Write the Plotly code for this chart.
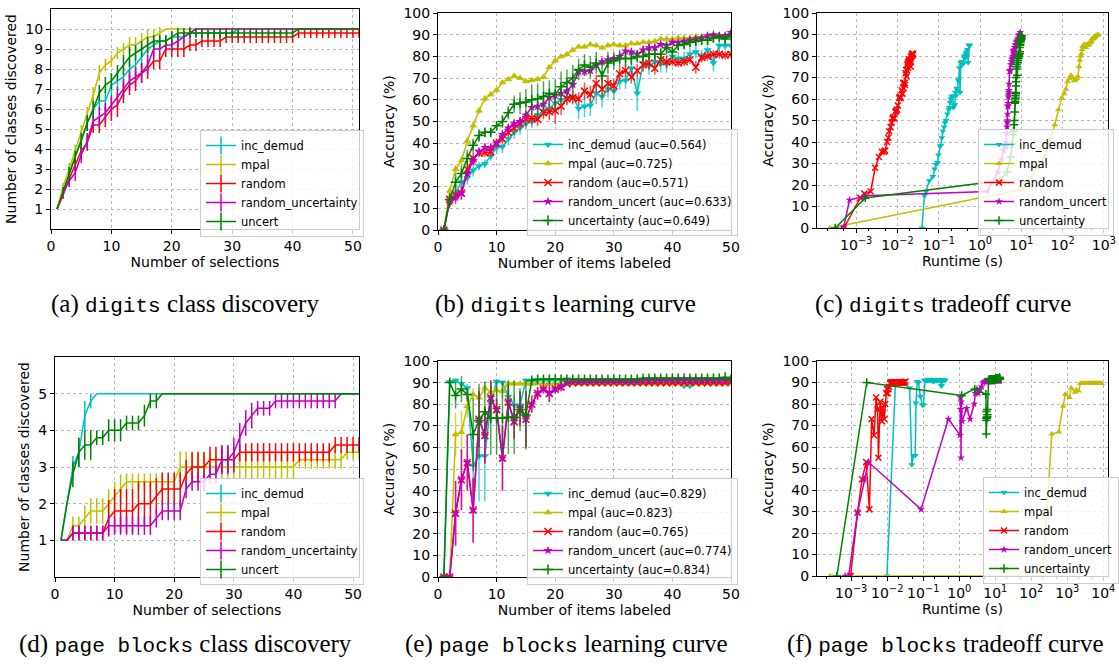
import plotly.graph_objects as go

W, H = 1119, 664

# ---------------- shared x values ----------------
selections = list(range(1, 52))   # panels (a), (d)
items = list(range(1, 51))        # panels (b), (e)

# ---------------- (a) digits class discovery ----------------
a_inc = [1, 1.9, 2.7, 3.6, 4.5, 5.3, 6.0, 6.4, 6.4, 7.2,
         7.4, 7.6, 8.0, 8.2, 8.6, 9.0, 9.2, 9.4, 9.4, 9.6,
         9.6, 9.6, 9.8, 9.8, 9.8, 9.8, 9.8, 9.8, 9.8, 9.8,
         10, 10, 10, 10, 10, 10, 10, 10, 10, 10,
         10, 10, 10, 10, 10, 10, 10, 10, 10, 10, 10]
a_mpal = [1, 2.1, 3.0, 3.9, 4.8, 5.7, 6.7, 7.8, 8.2, 8.4,
          8.8, 9.0, 9.2, 9.2, 9.4, 9.6, 9.6, 9.8, 10, 10,
          10, 10, 10, 10, 10, 10, 10, 10, 10, 10,
          10, 10, 10, 10, 10, 10, 10, 10, 10, 10,
          10, 10, 10, 10, 10, 10, 10, 10, 10, 10, 10]
a_rand = [1, 1.7, 2.5, 3.2, 3.9, 4.3, 5.2, 5.2, 5.6, 6.0,
          6.2, 6.8, 7.2, 7.4, 7.8, 8.0, 8.4, 8.4, 9.0, 9.0,
          9.0, 9.0, 9.2, 9.2, 9.4, 9.4, 9.4, 9.4, 9.6, 9.6,
          9.6, 9.6, 9.6, 9.6, 9.6, 9.6, 9.6, 9.6, 9.6, 9.6,
          9.8, 9.8, 9.8, 9.8, 9.8, 9.8, 9.8, 9.8, 9.8, 9.8, 9.8]
a_runc = [1, 1.8, 2.4, 2.8, 3.7, 4.4, 5.4, 5.6, 5.8, 6.2,
          6.6, 7.0, 7.4, 7.6, 7.8, 8.2, 9.0, 9.0, 9.2, 9.2,
          9.4, 9.6, 9.8, 10, 10, 10, 10, 10, 10, 10,
          10, 10, 10, 10, 10, 10, 10, 10, 10, 10,
          10, 10, 10, 10, 10, 10, 10, 10, 10, 10, 10]
a_unc = [1, 1.9, 2.8, 3.6, 4.4, 5.3, 6.0, 6.8, 7.2, 7.4,
         7.8, 8.2, 8.6, 8.8, 9.0, 9.2, 9.4, 9.4, 9.4, 9.6,
         9.8, 9.8, 9.8, 9.8, 9.8, 9.8, 9.8, 9.8, 9.8, 9.8,
         9.8, 9.8, 9.8, 9.8, 9.8, 9.8, 9.8, 9.8, 9.8, 9.8,
         10, 10, 10, 10, 10, 10, 10, 10, 10, 10, 10]
a_inc_err = [0, 0.2, 0.3, 0.4, 0.4, 0.4, 0.5, 0.5, 0.5, 0.5,
             0.5, 0.5, 0.5, 0.5, 0.5, 0.4, 0.4, 0.3, 0.3, 0.25,
             0.25, 0.25, 0.2, 0.2, 0.2, 0.2, 0.2, 0.2, 0.2, 0.2,
             0, 0, 0, 0, 0, 0, 0, 0, 0, 0,
             0, 0, 0, 0, 0, 0, 0, 0, 0, 0, 0]
a_mpal_err = [0, 0.2, 0.3, 0.3, 0.4, 0.4, 0.4, 0.4, 0.3, 0.3,
              0.3, 0.3, 0.4, 0.4, 0.4, 0.4, 0.4, 0.3, 0, 0,
              0, 0, 0, 0, 0, 0, 0, 0, 0, 0,
              0, 0, 0, 0, 0, 0, 0, 0, 0, 0,
              0, 0, 0, 0, 0, 0, 0, 0, 0, 0, 0]
a_rand_err = [0, 0.2, 0.3, 0.3, 0.4, 0.4, 0.4, 0.4, 0.5, 0.6,
              0.6, 0.5, 0.5, 0.5, 0.5, 0.5, 0.4, 0.4, 0.4, 0.4,
              0.4, 0.4, 0.3, 0.3, 0.3, 0.3, 0.3, 0.3, 0.3, 0.3,
              0.3, 0.3, 0.3, 0.3, 0.3, 0.3, 0.3, 0.3, 0.3, 0.3,
              0.25, 0.25, 0.25, 0.25, 0.25, 0.25, 0.25, 0.25, 0.25, 0.25, 0.25]
a_runc_err = [0, 0.2, 0.3, 0.4, 0.4, 0.4, 0.4, 0.5, 0.5, 0.5,
              0.5, 0.5, 0.5, 0.5, 0.5, 0.5, 0.4, 0.3, 0.3, 0.3,
              0.3, 0.3, 0.3, 0, 0, 0, 0, 0, 0, 0,
              0, 0, 0, 0, 0, 0, 0, 0, 0, 0,
              0, 0, 0, 0, 0, 0, 0, 0, 0, 0, 0]
a_unc_err = [0, 0.2, 0.3, 0.3, 0.4, 0.4, 0.4, 0.4, 0.4, 0.4,
             0.4, 0.5, 0.5, 0.4, 0.4, 0.4, 0.3, 0.3, 0.3, 0.3,
             0.25, 0.25, 0.25, 0.25, 0.25, 0.25, 0.25, 0.25, 0.25, 0.25,
             0.25, 0.25, 0.25, 0.25, 0.25, 0.25, 0.25, 0.25, 0.25, 0.25,
             0, 0, 0, 0, 0, 0, 0, 0, 0, 0, 0]

# ---------------- (b) digits learning curve ----------------
b_inc = [0, 15, 17, 22, 24, 27.5, 29.5, 30.5, 34, 38,
         38.5, 42, 45, 47, 49, 50, 53, 55, 56, 58.5,
         60, 61, 61.5, 56, 57, 57.5, 63, 61.5, 65, 64,
         68.5, 69, 74.5, 63, 77, 75.5, 77.5, 76.5, 76.5, 80,
         79, 79, 81, 82, 80, 83, 77, 85, 85, 85]
b_mpal = [0, 18, 28, 32, 41, 48, 55, 60.5, 62.5, 64.5,
          68, 69.5, 71, 70, 68.5, 69, 69.5, 70.5, 75, 78,
          80, 81, 83, 84.5, 84.5, 85.5, 85, 84, 85, 85.5,
          85, 85, 86, 86, 86.5, 86.5, 87, 88, 88, 88,
          88.5, 88.5, 88.5, 89, 89, 89.5, 89.5, 89.5, 89.5, 90]
b_rand = [0, 14, 16, 17, 28, 33, 35.5, 35.5, 36, 40,
          42, 45, 47, 49, 51, 51.5, 51, 54, 54.5, 55,
          57, 60.5, 61, 60.5, 64, 62.5, 67.5, 65, 67.5, 66.5,
          72, 73.5, 70.5, 73.5, 76, 77, 74.5, 78.5, 77.5, 77.5,
          77, 77.5, 78.5, 75, 79.5, 80, 81, 81, 80.5, 81]
b_runc = [0, 13, 15, 17, 26, 32, 36, 38, 38, 40,
          44, 47, 49, 50, 53, 56.5, 57, 58, 61, 62,
          63, 64, 67, 73, 73, 73.5, 76, 77.5, 78.5, 79,
          80, 82.5, 82, 81, 83, 84, 84, 85.5, 85, 86.5,
          86.5, 87, 87.5, 88, 88.5, 89.5, 90, 89.5, 89.5, 91]
b_unc = [0, 14, 22, 26, 33, 39, 43.5, 45, 45, 48,
         50, 54, 58, 58.5, 59, 60, 60.5, 61.5, 63, 62.5,
         66, 68, 70, 74, 76, 75, 77, 71, 77, 78,
         79, 79, 79, 80, 80, 81, 81, 81, 84, 82,
         85, 85.5, 86.5, 87, 87.5, 87.5, 88.5, 89, 88, 89.5]
b_inc_err = [0, 2, 3, 3, 3, 3, 2, 2, 2, 3,
             3, 3, 3, 3, 3, 3, 3, 3, 3, 3,
             3, 3, 3, 5, 5, 5, 5, 5, 4, 4,
             4, 4, 3, 8, 4, 4, 4, 4, 4, 3,
             3, 3, 3, 3, 3, 3, 4, 2, 2, 2]
b_mpal_err = [0, 2, 2, 2, 2, 2, 1.5, 1.5, 1, 1,
              1, 1, 1, 1, 1, 1, 1, 1, 1, 1,
              1, 1, 1, 1, 1, 1, 1, 1, 1, 1,
              1, 1, 1, 1, 1, 1, 1, 1, 1, 1,
              1, 1, 1, 1, 1, 1, 1, 1, 1, 1]
b_rand_err = [0, 3, 3, 3, 3, 3, 2, 2, 2, 2,
              2, 2, 3, 3, 3, 3, 3, 3, 4, 6,
              4, 3, 3, 3, 4, 4, 4, 4, 4, 3,
              3, 3, 3, 3, 3, 3, 3, 3, 3, 2,
              2, 2, 2, 3, 2, 2, 2, 2, 2, 2]
b_runc_err = [0, 3, 3, 3, 2, 2, 2, 2, 2, 2,
              2, 2, 2, 2, 2, 2, 2, 2, 2, 2,
              2, 2, 2, 2, 2, 2, 2, 2, 2, 2,
              2, 2, 2, 2, 2, 2, 2, 1, 1, 1,
              1, 1, 1, 1, 1, 1, 1, 1, 1, 1]
b_unc_err = [0, 3, 4, 4, 4, 3, 3, 2, 2, 2,
             3, 3, 4, 5, 6, 7, 7, 7, 6, 7,
             7, 6, 6, 5, 5, 5, 5, 6, 5, 4,
             4, 4, 3, 3, 3, 3, 3, 3, 3, 3,
             2, 2, 2, 2, 2, 2, 2, 2, 2, 2]

# ---------------- (c) digits tradeoff: cumulative runtime (s) ----------------
c_inc_t = [0.039, 0.045, 0.049, 0.059, 0.072, 0.079, 0.086, 0.093, 0.098, 0.108,
           0.112, 0.118, 0.125, 0.135, 0.142, 0.150, 0.162, 0.175, 0.181, 0.188,
           0.195, 0.206, 0.218, 0.226, 0.235, 0.244, 0.253, 0.262, 0.272, 0.283,
           0.294, 0.305, 0.316, 0.328, 0.340, 0.353, 0.367, 0.381, 0.395, 0.410,
           0.426, 0.434, 0.450, 0.467, 0.475, 0.494, 0.513, 0.532, 0.552, 0.573]
c_mpal_t = [2.3e-4, 11, 24, 34, 49, 65, 79, 96, 110, 120,
            132, 145, 160, 175, 190, 205, 220, 235, 250, 262,
            275, 285, 295, 305, 320, 335, 350, 365, 380, 395,
            410, 425, 440, 455, 470, 485, 500, 515, 530, 545,
            560, 575, 590, 605, 620, 640, 660, 680, 700, 720]
c_rand_t = [5.0e-4, 1.26e-3, 1.58e-3, 2.24e-3, 2.88e-3, 3.55e-3, 4.17e-3, 4.68e-3, 5.0e-3, 5.6e-3,
            6.0e-3, 6.3e-3, 6.8e-3, 7.2e-3, 7.6e-3, 7.9e-3, 8.3e-3, 8.9e-3, 9.3e-3, 9.8e-3,
            1.02e-2, 1.10e-2, 1.15e-2, 1.20e-2, 1.26e-2, 1.32e-2, 1.38e-2, 1.41e-2, 1.48e-2, 1.51e-2,
            1.58e-2, 1.62e-2, 1.66e-2, 1.70e-2, 1.74e-2, 1.78e-2, 1.82e-2, 1.86e-2, 1.91e-2, 1.95e-2,
            2.0e-2, 2.04e-2, 2.09e-2, 2.1e-2, 2.14e-2, 2.19e-2, 2.24e-2, 2.29e-2, 2.34e-2, 2.40e-2]
c_runc_t = [4.9e-4, 6.9e-4, 1.66e-3, 1.5, 2.7, 3.3, 3.7, 4.0, 4.2, 4.3,
            4.4, 4.5, 4.55, 4.6, 4.65, 4.7, 4.75, 4.8, 4.85, 4.9,
            4.95, 5.0, 5.05, 5.2, 5.3, 5.4, 5.6, 5.8, 6.0, 6.1,
            6.2, 6.4, 6.5, 6.6, 6.8, 7.0, 7.1, 7.3, 7.4, 7.6,
            7.8, 7.9, 8.1, 8.3, 8.5, 8.7, 8.9, 9.0, 9.2, 9.4]
c_unc_t = [3.1e-4, 1.66e-3, 3.0, 4.5, 5.5, 6.0, 6.3, 6.5, 6.6, 6.7,
           6.8, 6.9, 7.0, 7.05, 7.1, 7.15, 7.2, 7.25, 7.3, 7.35,
           7.4, 7.45, 7.5, 7.6, 7.7, 7.8, 7.9, 8.0, 8.1, 8.2,
           8.3, 8.4, 8.5, 8.6, 8.7, 8.8, 8.9, 9.0, 9.1, 9.2,
           9.3, 9.4, 9.5, 9.6, 9.7, 9.8, 9.9, 10.0, 10.1, 10.3]

# ---------------- (d) page blocks class discovery ----------------
d_inc = [1, 2, 3, 3.4, 4.4, 4.8, 5, 5, 5, 5,
         5, 5, 5, 5, 5, 5, 5, 5, 5, 5,
         5, 5, 5, 5, 5, 5, 5, 5, 5, 5,
         5, 5, 5, 5, 5, 5, 5, 5, 5, 5,
         5, 5, 5, 5, 5, 5, 5, 5, 5, 5, 5]
d_mpal = [1, 1, 1.4, 1.4, 1.6, 1.8, 1.8, 1.8, 2.0, 2.2,
          2.4, 2.6, 2.6, 2.6, 2.6, 2.6, 2.6, 2.6, 2.6, 2.6,
          3.0, 3.0, 3.0, 3.0, 3.0, 3.0, 3.0, 3.0, 3.0, 3.0,
          3.0, 3.0, 3.0, 3.0, 3.0, 3.0, 3.0, 3.0, 3.0, 3.0,
          3.2, 3.2, 3.2, 3.2, 3.2, 3.2, 3.2, 3.2, 3.4, 3.4, 3.4]
d_rand = [1, 1, 1.2, 1.2, 1.2, 1.2, 1.2, 1.2, 1.6, 1.8,
          1.8, 1.8, 1.8, 2.0, 2.0, 2.0, 2.2, 2.4, 2.4, 2.4,
          2.4, 2.8, 3.0, 3.0, 3.0, 3.2, 3.2, 3.2, 3.2, 3.2,
          3.4, 3.4, 3.4, 3.4, 3.4, 3.4, 3.4, 3.4, 3.4, 3.4,
          3.4, 3.4, 3.4, 3.4, 3.4, 3.4, 3.6, 3.6, 3.6, 3.6, 3.6]
d_runc = [1, 1, 1.2, 1.2, 1.2, 1.2, 1.2, 1.2, 1.4, 1.4,
          1.4, 1.4, 1.4, 1.4, 1.4, 1.4, 1.6, 1.8, 1.8, 1.8,
          1.8, 2.4, 2.6, 2.6, 2.6, 2.8, 2.8, 3.2, 3.2, 3.4,
          3.8, 4.2, 4.4, 4.6, 4.6, 4.6, 4.8, 4.8, 4.8, 4.8,
          4.8, 4.8, 4.8, 4.8, 4.8, 4.8, 4.8, 5, 5, 5, 5]
d_unc = [1, 2, 2.8, 3.4, 3.6, 3.6, 3.8, 3.8, 4.0, 4.0,
         4.0, 4.2, 4.2, 4.2, 4.4, 4.8, 4.8, 5, 5, 5,
         5, 5, 5, 5, 5, 5, 5, 5, 5, 5,
         5, 5, 5, 5, 5, 5, 5, 5, 5, 5,
         5, 5, 5, 5, 5, 5, 5, 5, 5, 5, 5]
d_inc_err = [0, 0, 0.3, 0.4, 0.4, 0.2, 0, 0, 0, 0,
             0, 0, 0, 0, 0, 0, 0, 0, 0, 0,
             0, 0, 0, 0, 0, 0, 0, 0, 0, 0,
             0, 0, 0, 0, 0, 0, 0, 0, 0, 0,
             0, 0, 0, 0, 0, 0, 0, 0, 0, 0, 0]
d_mpal_err = [0, 0, 0.25, 0.25, 0.35, 0.35, 0.35, 0.35, 0.4, 0.4,
              0.4, 0.22, 0.22, 0.22, 0.22, 0.22, 0.22, 0.22, 0.22, 0.22,
              0.42, 0.42, 0.42, 0.42, 0.42, 0.35, 0.35, 0.35, 0.35, 0.35,
              0.35, 0.35, 0.35, 0.35, 0.35, 0.35, 0.35, 0.35, 0.35, 0.35,
              0.25, 0.25, 0.25, 0.25, 0.25, 0.25, 0.25, 0.25, 0.2, 0.2, 0.2]
d_rand_err = [0, 0, 0.2, 0.2, 0.2, 0.2, 0.2, 0.2, 0.5, 0.6,
              0.6, 0.6, 0.6, 0.6, 0.6, 0.6, 0.5, 0.45, 0.45, 0.45,
              0.45, 0.4, 0.4, 0.4, 0.4, 0.35, 0.35, 0.35, 0.35, 0.35,
              0.25, 0.25, 0.25, 0.25, 0.25, 0.25, 0.25, 0.25, 0.25, 0.25,
              0.25, 0.25, 0.25, 0.25, 0.25, 0.25, 0.22, 0.22, 0.22, 0.22, 0.22]
d_runc_err = [0, 0, 0.2, 0.2, 0.2, 0.2, 0.2, 0.2, 0.25, 0.25,
              0.25, 0.25, 0.25, 0.25, 0.25, 0.25, 0.25, 0.25, 0.25, 0.25,
              0.25, 0.25, 0.25, 0.25, 0.25, 0.25, 0.25, 0.4, 0.4, 0.4,
              0.4, 0.35, 0.35, 0.2, 0.2, 0.2, 0.2, 0.2, 0.2, 0.2,
              0.2, 0.2, 0.2, 0.2, 0.2, 0.2, 0.2, 0, 0, 0, 0]
d_unc_err = [0, 0, 0.35, 0.4, 0.4, 0.4, 0.2, 0.2, 0.3, 0.3,
             0.3, 0.2, 0.2, 0.2, 0.3, 0.2, 0.2, 0, 0, 0,
             0, 0, 0, 0, 0, 0, 0, 0, 0, 0,
             0, 0, 0, 0, 0, 0, 0, 0, 0, 0,
             0, 0, 0, 0, 0, 0, 0, 0, 0, 0, 0]

# ---------------- (e) page blocks learning curve ----------------
e_inc = [0, 90.3, 91, 89.5, 87.5, 51.7, 56, 56, 80.5, 90.5,
         90, 83.5, 79.5, 79.5, 91, 91, 91, 91, 91, 91,
         91, 91.5, 91, 91, 91, 91, 91, 90.5, 90.5, 91,
         91, 91, 91, 91, 91, 91, 91, 91, 91, 91,
         91, 88.5, 88.5, 91, 91, 91, 91, 91, 91, 91]
e_mpal = [0, 0, 66, 67, 79, 84.5, 83, 87.5, 85.5, 86.5,
          86, 89.5, 89.5, 89.5, 89.5, 89.5, 89.5, 89.5, 89.5, 89.5,
          89.5, 89.5, 89.5, 89.5, 89.5, 89.5, 89.5, 89.5, 89.5, 89.5,
          89.5, 89.5, 89.5, 89.5, 89.5, 89.5, 89.5, 89.5, 89.5, 89.5,
          89.5, 89.5, 89.5, 89.5, 89.5, 89.5, 89.5, 89.5, 89.5, 89.5]
e_rand = [0, 0, 29.5, 45, 53, 31, 73, 65.5, 83, 77.5,
          55, 81, 72, 78, 73, 80, 85, 87, 85, 87,
          88, 89.5, 90, 90, 90, 90, 90, 90, 90, 90,
          90, 90, 90, 90, 90, 90, 90, 90, 90, 90,
          90, 90, 90, 90, 90, 90, 90, 90, 90, 90.5]
e_runc = [0, 0, 29.5, 45, 53, 31, 73, 65.5, 83, 77.5,
          55, 81, 72, 78, 73, 80, 85, 87, 85, 87,
          88, 90, 90.5, 90.5, 90.5, 90.5, 90.5, 90.5, 90.5, 90.5,
          90.5, 90.5, 90.5, 90.5, 91, 91, 91, 91, 91, 91,
          91, 91, 91, 91, 91, 91, 91, 91, 91, 91.5]
e_unc = [0, 90, 84, 87, 84.5, 66, 72.5, 76.5, 73.5, 73.5,
         73.5, 74, 74, 77.5, 75, 91, 91.5, 91.5, 91.5, 91.5,
         91.5, 91.5, 91.5, 91.5, 91.5, 91.5, 91.5, 91.5, 91.5, 91.5,
         91.5, 91.5, 91.5, 91.5, 92, 92, 92, 92, 92, 92,
         92, 92, 92, 92, 92, 92, 92, 92, 92.5, 91.5]
e_inc_err = [0, 1, 1, 1, 2, 15, 21, 21, 8, 1,
             1, 5, 5, 5, 1, 0.5, 0.5, 0.5, 0.5, 0.5,
             0.5, 0.5, 0.5, 0.5, 0.5, 0.5, 0.5, 0.5, 0.5, 0.5,
             0.5, 0.5, 0.5, 0.5, 0.5, 0.5, 0.5, 0.5, 0.5, 0.5,
             0.5, 0.5, 0.5, 0.5, 0.5, 0.5, 0.5, 0.5, 0.5, 0.5]
e_mpal_err = [0, 0, 10, 10, 5, 3, 5, 3, 3, 3,
              3, 1, 1, 1, 1, 0.5, 0.5, 0.5, 0.5, 0.5,
              0.5, 0.5, 0.5, 0.5, 0.5, 0.5, 0.5, 0.5, 0.5, 0.5,
              0.5, 0.5, 0.5, 0.5, 0.5, 0.5, 0.5, 0.5, 0.5, 0.5,
              0.5, 0.5, 0.5, 0.5, 0.5, 0.5, 0.5, 0.5, 0.5, 0.5]
e_rand_err = [0, 0, 15, 14, 13, 15, 13, 13, 8, 5,
              15, 8, 8, 8, 13, 4, 3, 2, 4, 2,
              2, 1, 0.5, 0.5, 0.5, 0.5, 0.5, 0.5, 0.5, 0.5,
              0.5, 0.5, 0.5, 0.5, 0.5, 0.5, 0.5, 0.5, 0.5, 0.5,
              0.5, 0.5, 0.5, 0.5, 0.5, 0.5, 0.5, 0.5, 0.5, 0.5]
e_runc_err = [0, 0, 15, 14, 13, 15, 13, 13, 8, 5,
              15, 8, 8, 8, 13, 4, 3, 2, 4, 2,
              2, 1, 0.5, 0.5, 0.5, 0.5, 0.5, 0.5, 0.5, 0.5,
              0.5, 0.5, 0.5, 0.5, 0.5, 0.5, 0.5, 0.5, 0.5, 0.5,
              0.5, 0.5, 0.5, 0.5, 0.5, 0.5, 0.5, 0.5, 0.5, 0.5]
e_unc_err = [0, 1, 6, 6, 3, 17, 17, 14, 17, 17,
             17, 17, 17, 10, 16, 1, 0.5, 0.5, 0.5, 0.5,
             0.5, 0.5, 0.5, 0.5, 0.5, 0.5, 0.5, 0.5, 0.5, 0.5,
             0.5, 0.5, 0.5, 0.5, 0.5, 0.5, 0.5, 0.5, 0.5, 0.5,
             0.5, 0.5, 0.5, 0.5, 0.5, 0.5, 0.5, 0.5, 0.5, 0.5]

# ---------------- (f) page blocks tradeoff: cumulative runtime (s) ----------------
f_inc_t = [0.0098, 0.017, 0.022, 0.03, 0.042, 0.048, 0.054, 0.06, 0.063, 0.068,
           0.074, 0.083, 0.094, 0.102, 0.107, 0.112, 0.118, 0.124, 0.13, 0.136,
           0.142, 0.148, 0.155, 0.162, 0.169, 0.176, 0.183, 0.19, 0.198, 0.206,
           0.214, 0.222, 0.23, 0.239, 0.248, 0.257, 0.266, 0.275, 0.285, 0.295,
           0.305, 0.315, 0.325, 0.335, 0.345, 0.355, 0.365, 0.38, 0.395, 0.41]
f_mpal_t = [2.6e-4, 210, 370, 580, 760, 880, 1150, 1290, 1650, 1780,
            2050, 2300, 2450, 2600, 2750, 2900, 3050, 3200, 3350, 3500,
            3650, 3800, 3950, 4100, 4250, 4400, 4550, 4700, 4850, 5000,
            5150, 5300, 5450, 5600, 5750, 5900, 6050, 6200, 6350, 6500,
            6650, 6800, 6950, 7100, 7300, 7500, 7800, 8100, 8500, 9000]
f_rand_t = [9.4e-4, 9.6e-4, 1.5e-3, 2.0e-3, 2.6e-3, 3.2e-3, 3.7e-3, 4.3e-3, 4.9e-3, 5.4e-3,
            5.7e-3, 6.4e-3, 7.1e-3, 7.5e-3, 8.3e-3, 8.8e-3, 9.4e-3, 9.9e-3, 1.03e-2, 1.08e-2,
            1.13e-2, 1.2e-2, 1.25e-2, 1.3e-2, 1.35e-2, 1.4e-2, 1.45e-2, 1.5e-2, 1.55e-2, 1.6e-2,
            1.65e-2, 1.7e-2, 1.75e-2, 1.8e-2, 1.85e-2, 1.9e-2, 1.95e-2, 2.0e-2, 2.06e-2, 2.12e-2,
            2.18e-2, 2.24e-2, 2.3e-2, 2.4e-2, 2.5e-2, 2.6e-2, 2.7e-2, 2.85e-2, 3.0e-2, 3.2e-2]
f_runc_t = [6.8e-4, 8.5e-4, 1.5e-3, 2.3e-3, 3.0e-3, 0.087, 0.5, 1.05, 1.08, 1.1,
            1.12, 1.14, 1.2, 1.6, 2.0, 2.6, 2.8, 3.1, 3.4, 3.8,
            4.2, 4.6, 5.0, 5.4, 5.8, 6.2, 6.6, 7.0, 7.3, 7.6,
            7.9, 8.2, 8.5, 8.8, 9.1, 9.4, 9.7, 10.0, 10.3, 10.6,
            10.9, 11.2, 11.5, 11.8, 12.1, 12.4, 12.7, 13.0, 13.3, 13.6]
f_unc_t = [4.0e-4, 2.7e-3, 1.17, 2.7, 5.5, 5.6, 5.65, 5.7, 5.75, 5.8,
           5.85, 5.9, 5.95, 6.0, 6.05, 6.5, 6.8, 7.0, 7.2, 7.4,
           7.6, 7.8, 8.0, 8.2, 8.4, 8.6, 8.8, 9.0, 9.2, 9.4,
           9.6, 9.8, 10.0, 10.2, 10.4, 10.6, 10.8, 11.0, 11.2, 11.4,
           11.6, 11.8, 12.0, 12.2, 12.4, 12.6, 12.8, 13.0, 13.2, 13.5]

# ---------------- labels ----------------
disc_names = ["inc_demud", "mpal", "random", "random_uncertainty", "uncert"]
b_names = ["inc_demud (auc=0.564)", "mpal (auc=0.725)", "random (auc=0.571)",
           "random_uncert (auc=0.633)", "uncertainty (auc=0.649)"]
e_names = ["inc_demud (auc=0.829)", "mpal (auc=0.823)", "random (auc=0.765)",
           "random_uncert (auc=0.774)", "uncertainty (auc=0.834)"]
trade_names = ["inc_demud", "mpal", "random", "random_uncert", "uncertainty"]
captions = [("(a)", "digits", "class discovery"), ("(b)", "digits", "learning curve"),
            ("(c)", "digits", "tradeoff curve"), ("(d)", "page blocks", "class discovery"),
            ("(e)", "page blocks", "learning curve"), ("(f)", "page blocks", "tradeoff curve")]
log_tick_vals_c = [1e-3, 1e-2, 1e-1, 1, 10, 100, 1000]
log_tick_text_c = ["10<sup>\u22123</sup>", "10<sup>\u22122</sup>", "10<sup>\u22121</sup>",
                   "10<sup>0</sup>", "10<sup>1</sup>", "10<sup>2</sup>", "10<sup>3</sup>"]
log_tick_vals_f = [1e-3, 1e-2, 1e-1, 1, 10, 100, 1000, 10000]
log_tick_text_f = log_tick_text_c + ["10<sup>4</sup>"]

# ---------------- styling ----------------
COLORS = ["#00bfbf", "#bfbf00", "#ff0000", "#bf00bf", "#008000"]
ERRCOL = ["rgba(0,191,191,0.7)", "rgba(191,191,0,0.7)", "rgba(255,0,0,0.7)",
          "rgba(191,0,191,0.7)", "rgba(0,128,0,0.7)"]
SYMBOLS = ["triangle-down", "triangle-up", "x-thin", "star", "cross-thin"]
THIN = [False, False, True, False, True]
FONT = "DejaVu Sans"

fig = go.Figure()


def marker(i, size):
    if THIN[i]:
        return dict(symbol=SYMBOLS[i], size=size, color=COLORS[i],
                    line=dict(color=COLORS[i], width=1.5))
    return dict(symbol=SYMBOLS[i], size=size, color=COLORS[i], line=dict(width=0))


# (a) and (d): discovery curves with error bars, no markers
for ax, leg, ys, errs in [
    (1, "legend", [a_inc, a_mpal, a_rand, a_runc, a_unc],
     [a_inc_err, a_mpal_err, a_rand_err, a_runc_err, a_unc_err]),
    (4, "legend4", [d_inc, d_mpal, d_rand, d_runc, d_unc],
     [d_inc_err, d_mpal_err, d_rand_err, d_runc_err, d_unc_err]),
]:
    xa = "x" if ax == 1 else f"x{ax}"
    ya = "y" if ax == 1 else f"y{ax}"
    for i in range(5):
        fig.add_trace(go.Scatter(
            x=selections, y=ys[i], mode="lines", xaxis=xa, yaxis=ya,
            line=dict(color=COLORS[i], width=1.5), showlegend=False,
            error_y=dict(type="data", array=errs[i], visible=True,
                         color=COLORS[i], thickness=1.5, width=0)))
    for i in range(5):
        fig.add_trace(go.Scatter(
            x=[None], y=[None], mode="lines+markers", xaxis=xa, yaxis=ya,
            name=disc_names[i], legend=leg,
            line=dict(color=COLORS[i], width=1.5),
            marker=dict(symbol="line-ns", size=13, color=COLORS[i],
                        line=dict(color=COLORS[i], width=1.5))))

# (b) and (e): learning curves with markers and error bars
for ax, leg, ys, errs, names in [
    (2, "legend2", [b_inc, b_mpal, b_rand, b_runc, b_unc],
     [b_inc_err, b_mpal_err, b_rand_err, b_runc_err, b_unc_err], b_names),
    (5, "legend5", [e_inc, e_mpal, e_rand, e_runc, e_unc],
     [e_inc_err, e_mpal_err, e_rand_err, e_runc_err, e_unc_err], e_names),
]:
    for i in range(5):
        fig.add_trace(go.Scatter(
            x=items, y=ys[i], mode="lines+markers", xaxis=f"x{ax}", yaxis=f"y{ax}",
            name=names[i], legend=leg,
            line=dict(color=COLORS[i], width=1.5), marker=marker(i, 7),
            error_y=dict(type="data", array=errs[i], visible=True,
                         color=ERRCOL[i], thickness=1.5, width=0)))

# (c) and (f): tradeoff curves
for ax, leg, ts, ys in [
    (3, "legend3", [c_inc_t, c_mpal_t, c_rand_t, c_runc_t, c_unc_t],
     [b_inc, b_mpal, b_rand, b_runc, b_unc]),
    (6, "legend6", [f_inc_t, f_mpal_t, f_rand_t, f_runc_t, f_unc_t],
     [e_inc, e_mpal, e_rand, e_runc, e_unc]),
]:
    for i in range(5):
        fig.add_trace(go.Scatter(
            x=ts[i], y=ys[i], mode="lines+markers", xaxis=f"x{ax}", yaxis=f"y{ax}",
            name=trade_names[i], legend=leg,
            line=dict(color=COLORS[i], width=1.5), marker=marker(i, 6)))


def px_x(X):
    return X / W


def px_y(Y):
    return 1 - Y / H


def dx(a, b):
    return [px_x(a), px_x(b)]


def dy(top, bottom):
    return [px_y(bottom), px_y(top)]


base_axis = dict(showline=True, linecolor="black", linewidth=1, mirror=True,
                 ticks="outside", ticklen=4, tickcolor="black", tickwidth=1,
                 showgrid=True, gridcolor="#b8b8b8", griddash="dot", gridwidth=1,
                 zeroline=False, automargin=False, ticklabeloverflow="allow",
                 tickfont=dict(family=FONT, size=14, color="black"),
                 title_font=dict(family=FONT, size=14, color="black"))

doms = {
    1: (dx(51, 359), dy(9, 229)),
    2: (dx(438, 731), dy(13, 230)),
    3: (dx(817, 1108), dy(13, 228)),
    4: (dx(55, 359), dy(357, 577)),
    5: (dx(438, 731), dy(361, 577)),
    6: (dx(817, 1108), dy(361, 576)),
}

layout = dict(template="none", width=W, height=H, margin=dict(l=0, r=0, t=0, b=0),
              paper_bgcolor="white", plot_bgcolor="white", showlegend=True)

for k in range(1, 7):
    xk = "xaxis" if k == 1 else f"xaxis{k}"
    yk = "yaxis" if k == 1 else f"yaxis{k}"
    xa = dict(base_axis, domain=doms[k][0], anchor="y" if k == 1 else f"y{k}")
    ya = dict(base_axis, domain=doms[k][1], anchor="x" if k == 1 else f"x{k}")
    if k in (1, 4):
        xa.update(range=[0, 51], tickvals=[0, 10, 20, 30, 40, 50],
                  title=dict(text="Number of selections", standoff=2))
        ya.update(title=dict(text="Number of classes discovered", standoff=5))
        if k == 1:
            ya.update(range=[0, 11], tickvals=[1, 2, 3, 4, 5, 6, 7, 8, 9, 10])
        else:
            ya.update(range=[0, 6], tickvals=[1, 2, 3, 4, 5])
    elif k in (2, 5):
        xa.update(range=[0, 50], tickvals=[0, 10, 20, 30, 40, 50],
                  title=dict(text="Number of items labeled", standoff=2))
        ya.update(range=[0, 100], tickvals=list(range(0, 101, 10)),
                  title=dict(text="Accuracy (%)", standoff=5))
    else:
        xa.update(type="log", title=dict(text="Runtime (s)", standoff=2),
                  minor=dict(ticks="outside", ticklen=2, tickcolor="black", showgrid=False))
        if k == 3:
            xa.update(range=[-3.95, 3.1], tickvals=log_tick_vals_c, ticktext=log_tick_text_c)
        else:
            xa.update(range=[-3.95, 4.13], tickvals=log_tick_vals_f, ticktext=log_tick_text_f)
        ya.update(range=[0, 100], tickvals=list(range(0, 101, 10)),
                  title=dict(text="Accuracy (%)", standoff=5))
    layout[xk] = xa
    layout[yk] = ya

leg_base = dict(bgcolor="rgba(255,255,255,0.8)", bordercolor="#cccccc", borderwidth=1,
                font=dict(family=FONT, size=11.5, color="black"), xanchor="left",
                yanchor="top", itemwidth=30, tracegroupgap=0, traceorder="normal")
leg_pos = {"legend": (200, 130), "legend2": (527, 129), "legend3": (978, 129),
           "legend4": (200, 478), "legend5": (527, 478), "legend6": (983, 477)}
for name, (lx, ly) in leg_pos.items():
    layout[name] = dict(leg_base, x=px_x(lx), y=px_y(ly))

annotations = []
cap_pos = [(185, 304), (565, 304), (943, 304), (185, 644), (566, 644), (945, 644)]
for (lbl, ds, rest), (cx, cy) in zip(captions, cap_pos):
    txt = (f"{lbl} <span style=\"font-family:'Liberation Mono';font-size:21px\">{ds}</span> {rest}")
    annotations.append(dict(text=txt, x=px_x(cx), y=px_y(cy), xref="paper", yref="paper",
                            xanchor="center", yanchor="middle", showarrow=False,
                            font=dict(family="Liberation Serif", size=25, color="black")))
layout["annotations"] = annotations

fig.update_layout(**layout)
# remove the browser's default 8px page margin so the figure fills the window exactly
fig.write_html("out.html", config={"displayModeBar": False},
               post_script="document.body.style.margin='0px';document.body.style.overflow='hidden';")
